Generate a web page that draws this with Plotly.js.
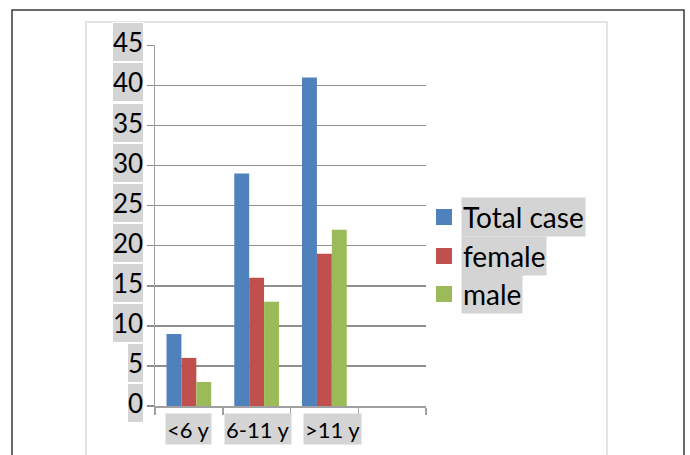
<!DOCTYPE html>
<html>
<head>
<meta charset="utf-8">
<script src="https://cdn.plot.ly/plotly-3.0.1.min.js"></script>
<style>
html,body{margin:0;padding:0;background:#fff;}
#chart{width:690px;height:455px;}
</style>
</head>
<body>
<div id="chart"></div>
<script>
// ---- data ----
const categories = ['<6 y', '6-11 y', '>11 y'];
const seriesNames = ['Total case', 'female', 'male'];
const totalCase = [9, 29, 41];
const female = [6, 16, 19];
const male = [3, 13, 22];
const yTickValues = [0, 5, 10, 15, 20, 25, 30, 35, 40, 45];
const seriesColors = ['#4f81bd', '#c0504d', '#9bbb59'];

// ---- geometry helpers (pixel -> paper) ----
const W = 690, H = 455;
const PL = 155, PR = 426, PT = 45, PB = 406;
const px = x => (x - PL) / (PR - PL);
const py = y => (PB - y) / (PB - PT);

const FONT = 'Lato, "DejaVu Sans", sans-serif';
const xIdx = categories.map((c, i) => i);
const allSeries = [totalCase, female, male];

const traces = allSeries.map((vals, s) => ({
  type: 'bar',
  x: xIdx,
  y: vals,
  name: seriesNames[s],
  marker: {color: seriesColors[s], line: {width: 0}},
  hoverinfo: 'skip'
}));

const annotations = [];
// y tick labels with grey boxes
yTickValues.forEach(v => {
  annotations.push({
    xref: 'paper', yref: 'y', x: px(144), y: v, xanchor: 'right', yanchor: 'middle',
    yshift: 3, text: String(v), showarrow: false,
    font: {family: FONT, size: 26, color: '#000'},
    bgcolor: '#d4d4d4', bordercolor: '#ffffff', borderwidth: 1, borderpad: 0,
    height: 38, valign: 'middle'
  });
});
// x category labels
const xLabelShift = [0, 1, 8];
categories.forEach((c, i) => {
  annotations.push({
    xref: 'x', yref: 'paper', x: i, y: py(413), xanchor: 'center', yanchor: 'top',
    xshift: xLabelShift[i],
    text: c, showarrow: false,
    font: {family: FONT, size: 22, color: '#000'},
    bgcolor: '#d4d4d4', borderpad: 1, height: 28, valign: 'middle'
  });
});
// legend
const shapes = [];
const legendRowY = [217, 256, 294];
seriesNames.forEach((n, s) => {
  const cy = legendRowY[s];
  shapes.push({
    type: 'rect', xref: 'paper', yref: 'paper',
    x0: px(436), x1: px(452), y0: py(cy + 8), y1: py(cy - 8),
    fillcolor: seriesColors[s], line: {width: 0}
  });
  annotations.push({
    xref: 'paper', yref: 'paper', x: px(461), y: py(cy), xanchor: 'left', yanchor: 'middle',
    text: n, showarrow: false,
    font: {family: FONT, size: 28, color: '#000'},
    bgcolor: '#d4d4d4', borderpad: 1, height: 36, valign: 'middle', align: 'left'
  });
});
// frames
shapes.push({
  type: 'rect', xref: 'paper', yref: 'paper', layer: 'below',
  x0: px(86), x1: px(607), y0: py(470), y1: py(22),
  line: {color: '#dadada', width: 1.5}, fillcolor: 'rgba(0,0,0,0)'
});
shapes.push({
  type: 'rect', xref: 'paper', yref: 'paper', layer: 'below',
  x0: px(12), x1: px(684), y0: py(470), y1: py(10),
  line: {color: '#3a3a3a', width: 1.5}, fillcolor: 'rgba(0,0,0,0)'
});

const layout = {
  width: W, height: H,
  margin: {l: PL, r: W - PR, t: PT, b: H - PB, pad: 0},
  paper_bgcolor: '#ffffff', plot_bgcolor: 'rgba(0,0,0,0)',
  showlegend: false,
  barmode: 'group', bargap: 0.34, bargroupgap: 0,
  xaxis: {
    type: 'linear', range: [-0.5, 3.5], tickmode: 'array',
    tickvals: [-0.5, 0.5, 1.5, 2.5, 3.5], showticklabels: false,
    ticks: 'outside', ticklen: 7, tickcolor: '#a0a0a0', tickwidth: 1.5,
    showgrid: false, zeroline: false, showline: true, linecolor: '#a0a0a0', linewidth: 1.5,
    fixedrange: true
  },
  yaxis: {
    range: [0, 45.05], tickmode: 'array', tickvals: yTickValues, showticklabels: false,
    ticks: 'outside', ticklen: 7, tickcolor: '#8f8f8f', tickwidth: 1.5,
    showgrid: true, gridcolor: '#8f8f8f', gridwidth: 1.5, zeroline: false,
    showline: true, linecolor: '#a0a0a0', linewidth: 1.5, fixedrange: true
  },
  annotations: annotations,
  shapes: shapes,
  font: {family: FONT}
};

Plotly.newPlot('chart', traces, layout, {displayModeBar: false, staticPlot: true});
</script>
</body>
</html>
